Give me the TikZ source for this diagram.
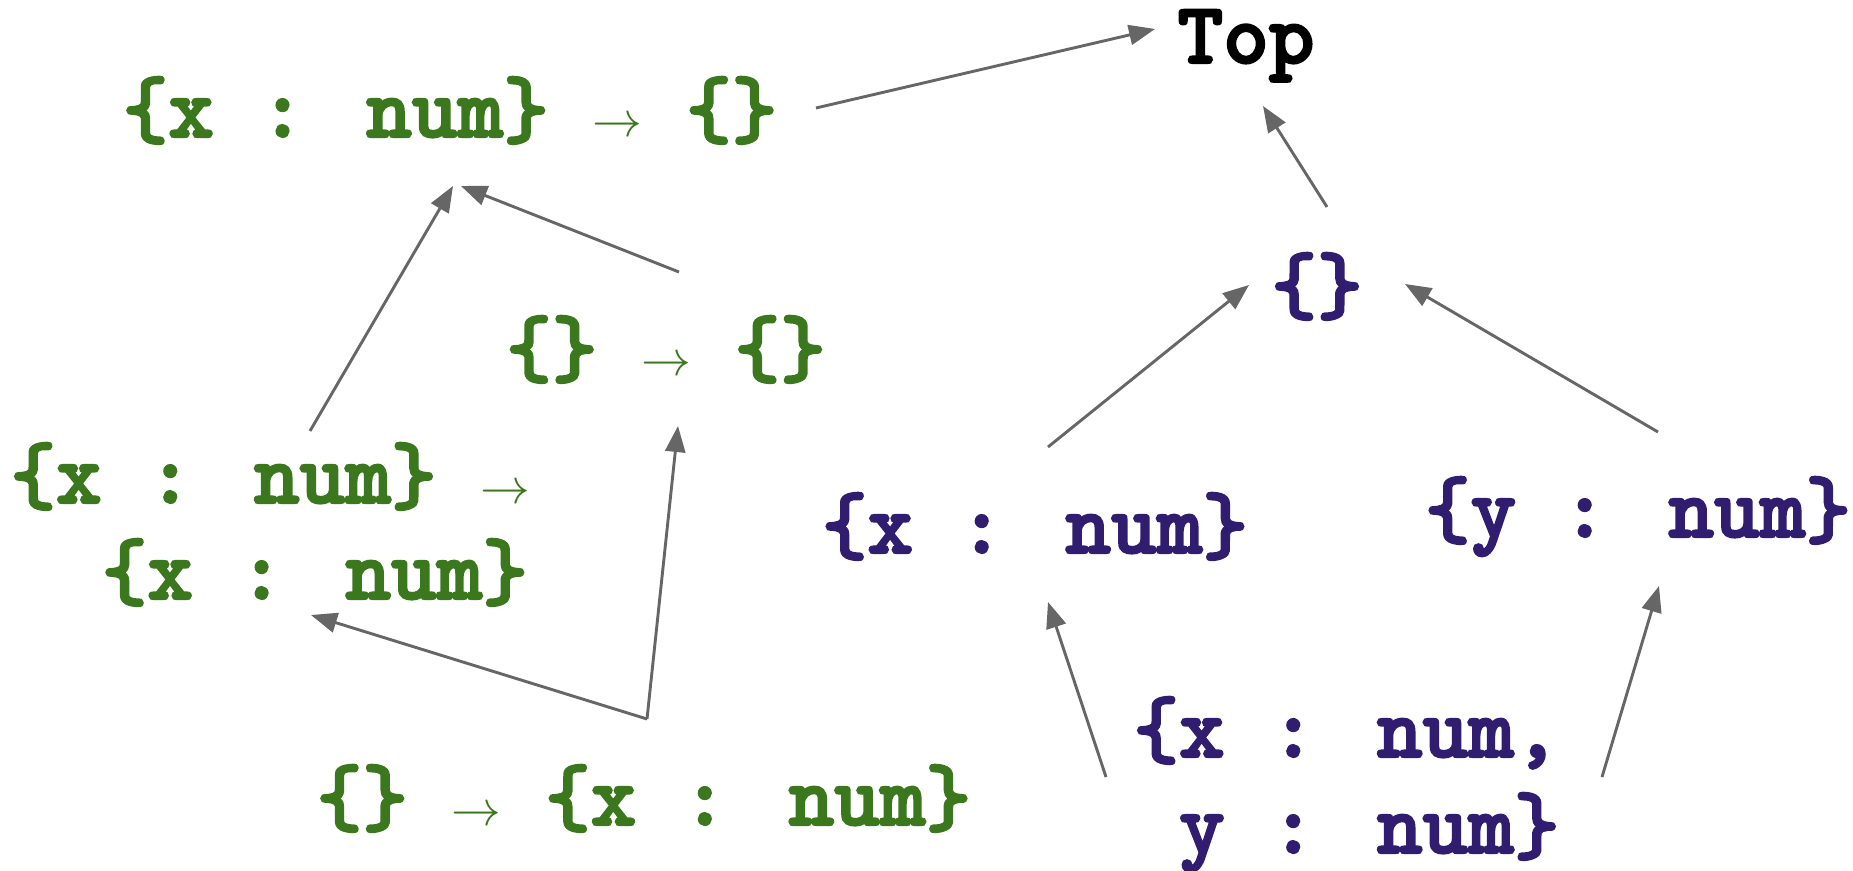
\documentclass[tikz,border=0pt]{standalone}
\usepackage{fontspec}
\newfontfamily\tybold{lmmonolt10-bold.otf}[FakeBold=2.5]
\usetikzlibrary{arrows.meta}
\definecolor{tgreen}{RGB}{59,120,29}
\definecolor{tpurple}{RGB}{49,29,112}
\definecolor{lgray}{RGB}{102,102,102}
\newcommand\rarr{\makebox[0.525em]{\fontsize{25pt}{25pt}\selectfont$\rightarrow$}}
\begin{document}
\begin{tikzpicture}[x=0.5pt,y=-0.5pt,
  lbl/.style={inner sep=0pt, font=\fontsize{43.5pt}{48pt}\selectfont\tybold, anchor=base},
  grn/.style={lbl,text=tgreen},
  pur/.style={lbl,text=tpurple},
  conn/.style={draw=lgray, line width=1.45pt, -{Triangle[length=13pt,width=10pt]}}]
\useasboundingbox (0,0) rectangle (1853,871);
% nodes
\node[lbl] (top) at (1246,63) {Top};
\node[grn] (n1) at (450,137) {\{x : num\} \rarr{} \{\}};
\node[grn] (n2) at (666,376) {\{\} \rarr{} \{\}};
\node[grn, align=left, anchor=base west] (n3) at (10,599) {\{x : num\} \rarr\\\hspace*{1.05em}\{x : num\}};
\node[grn] (n4) at (644,825) {\{\} \rarr{} \{x : num\}};
\node[pur] (n5) at (1317,313) {\{\}};
\node[pur] (n6) at (1035,553) {\{x : num\}};
\node[pur] (n7) at (1638,537) {\{y : num\}};
\node[pur, align=left, anchor=base west] (n8) at (1133,853) {\{x : num,\\\hspace*{0.525em}y : num\}};
% connector end points
\coordinate (a1s) at (816,108);  \coordinate (a1e) at (1155,29);
\coordinate (a2s) at (1327,207); \coordinate (a2e) at (1263,106);
\coordinate (a3s) at (1048,447); \coordinate (a3e) at (1249,285);
\coordinate (a4s) at (1658,432); \coordinate (a4e) at (1405,284);
\coordinate (a5s) at (1106,777); \coordinate (a5e) at (1048,602);
\coordinate (a6s) at (1602,777); \coordinate (a6e) at (1659,586);
\coordinate (a7s) at (310,431);  \coordinate (a7e) at (453,186);
\coordinate (a8s) at (679,272);  \coordinate (a8e) at (461,186);
\coordinate (a9s) at (647,719);  \coordinate (a9e) at (311,615);
\coordinate (a10e) at (678,426);
% connectors
\draw[conn] (a1s) -- (a1e);
\draw[conn] (a2s) -- (a2e);
\draw[conn] (a3s) -- (a3e);
\draw[conn] (a4s) -- (a4e);
\draw[conn] (a5s) -- (a5e);
\draw[conn] (a6s) -- (a6e);
\draw[conn] (a7s) -- (a7e);
\draw[conn] (a8s) -- (a8e);
\draw[conn] (a9s) -- (a9e);
\draw[conn] (a9s) -- (a10e);
\end{tikzpicture}
\end{document}
